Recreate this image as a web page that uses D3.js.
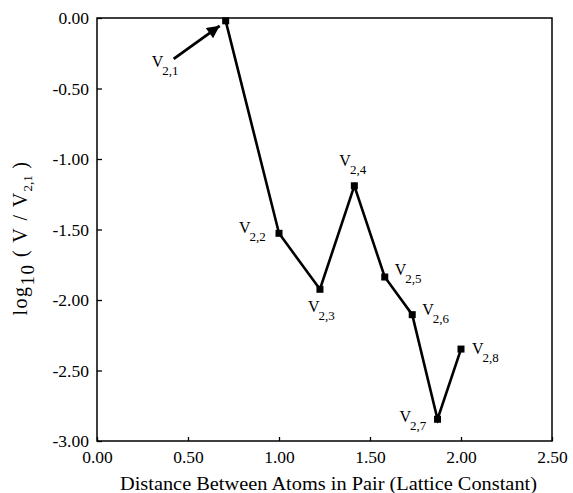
<!DOCTYPE html>
<html><head><meta charset="utf-8">
<script src="https://cdn.jsdelivr.net/npm/d3@7"></script>
<style>
body{margin:0;background:#fff;}
text{font-family:"Liberation Serif","Times New Roman",serif;fill:#000;}
</style></head>
<body><svg id="c" width="573" height="493"></svg>
<script>
const distances = [0.707, 1.0, 1.225, 1.414, 1.581, 1.732, 1.871, 2.0];
const logValues = [-0.02, -1.527, -1.924, -1.19, -1.837, -2.104, -2.846, -2.348];
const labelSubs = ["2,1","2,2","2,3","2,4","2,5","2,6","2,7","2,8"];
const xTicks = [0, 0.5, 1.0, 1.5, 2.0, 2.5];
const yTicks = [0, -0.5, -1.0, -1.5, -2.0, -2.5, -3.0];

const svg = d3.select("#c");
const L = 97, R = 552, T = 18, B = 441;
const x = d3.scaleLinear().domain([0, 2.5]).range([L, R]);
const y = d3.scaleLinear().domain([0, -3]).range([T, B]);

// axes
const gx = svg.append("g").attr("transform", `translate(0,${B})`)
  .call(d3.axisBottom(x).tickValues(xTicks).tickFormat(d3.format(".2f")).tickSizeInner(-4).tickSizeOuter(0).tickPadding(10));
const gy = svg.append("g").attr("transform", `translate(${L},0)`)
  .call(d3.axisLeft(y).tickValues(yTicks).tickFormat(d3.format(".2f")).tickSizeInner(-5).tickSizeOuter(0).tickPadding(8));
[gx, gy].forEach(g => {
  g.select(".domain").remove();
  g.selectAll(".tick line").attr("stroke", "#000").attr("stroke-width", 1.3);
  g.selectAll(".tick text").style("font-family", '"Liberation Serif",serif').style("font-size", "17.5px").attr("fill", "#000");
});
gy.selectAll(".tick text").text(d => d === 0 ? "0.00" : d3.format(".2f")(d).replace("−", "-"));
gx.selectAll(".tick text").text(d => d3.format(".2f")(d));

// frame
svg.append("rect").attr("x", L).attr("y", T).attr("width", R - L).attr("height", B - T)
  .attr("fill", "none").attr("stroke", "#000").attr("stroke-width", 1.5);

// line
const line = d3.line().x((d, i) => x(distances[i])).y(d => y(d));
svg.append("path").datum(logValues).attr("d", line)
  .attr("fill", "none").attr("stroke", "#000").attr("stroke-width", 2.6).attr("stroke-linejoin", "miter");

// markers
svg.selectAll("rect.pt").data(logValues).enter().append("rect").attr("class", "pt")
  .attr("x", (d, i) => x(distances[i]) - 3.5).attr("y", d => y(d) - 3.5)
  .attr("width", 7).attr("height", 7).attr("fill", "#000");

// labels (offsets from points, in px)
const offs = [[-74, 46], [-40, 0], [-12, 23], [-15, -20], [10, -2], [10, 0], [-38, 3], [11, 5]];
logValues.forEach((v, i) => {
  const px = x(distances[i]), py = y(v);
  const t = svg.append("text").attr("x", px + offs[i][0]).attr("y", py + offs[i][1]).style("font-size", "16px");
  t.append("tspan").text("V");
  t.append("tspan").attr("dy", 8).attr("dx", -1).style("font-size", "13px").text(labelSubs[i]);
});

// arrow to V2,1
svg.append("defs").append("marker").attr("id", "ah").attr("viewBox", "0 0 10 10")
  .attr("refX", 10).attr("refY", 5).attr("markerWidth", 5).attr("markerHeight", 4.5)
  .attr("markerUnits", "strokeWidth").attr("orient", "auto")
  .append("path").attr("d", "M0,0L10,5L0,10z").attr("fill", "#000");
const ax = x(distances[0]), ay = y(logValues[0]);
svg.append("line").attr("x1", ax - 52).attr("y1", ay + 38).attr("x2", ax - 6).attr("y2", ay + 5)
  .attr("stroke", "#000").attr("stroke-width", 2.8).attr("marker-end", "url(#ah)");

// axis titles
svg.append("text").attr("x", (L + R) / 2 + 4).attr("y", 490).attr("text-anchor", "middle")
  .style("font-size", "18px").attr("textLength", 417).attr("lengthAdjust", "spacingAndGlyphs")
  .text("Distance Between Atoms in Pair (Lattice Constant)");

const yt = svg.append("text").attr("transform", "translate(27,238) rotate(-90)")
  .attr("text-anchor", "middle").style("font-size", "20px").style("letter-spacing", "1.5px");
yt.append("tspan").text("log");
yt.append("tspan").attr("dy", 7).style("font-size", "19px").text("10");
yt.append("tspan").attr("dy", -7).text(" ( V / V");
yt.append("tspan").attr("dy", 5).style("font-size", "13px").style("letter-spacing", "0px").text("2,1");
yt.append("tspan").attr("dy", -5).text(" )");
</script></body></html>
